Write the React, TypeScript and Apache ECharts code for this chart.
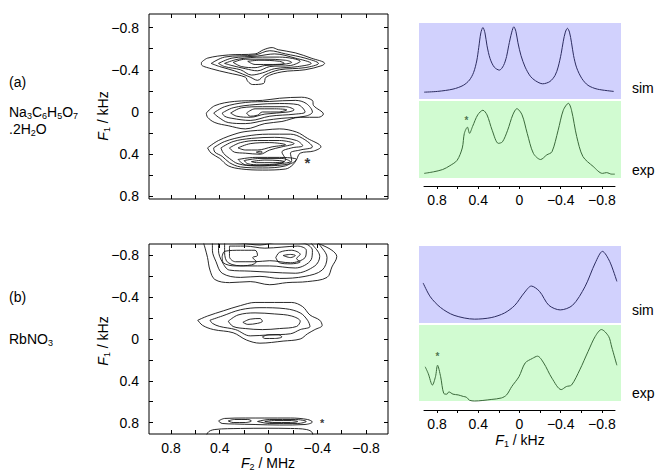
import React, { useEffect, useRef } from 'react';
import * as echarts from 'echarts';

type P = [number, number];

const FONT = "'Liberation Sans', Arial, Helvetica, sans-serif";

// tick values (kHz / MHz)
const majorTicks = [0.8, 0.4, 0, -0.4, -0.8];
const minorTicks = [0.8, 0.6, 0.4, 0.2, 0, -0.2, -0.4, -0.6, -0.8];

// ---- (a) contours: [F2 MHz, F1 kHz]
const aUpper: P[][] = [
  [[0.55,-0.47],[0.50,-0.51],[0.33,-0.54],[0.11,-0.55],[0.04,-0.59],[-0.03,-0.61],[-0.08,-0.59],[-0.22,-0.56],[-0.35,-0.51],[-0.46,-0.46],[-0.44,-0.44],[-0.30,-0.40],[-0.11,-0.38],[0.02,-0.33],[0.04,-0.27],[0.13,-0.26],[0.17,-0.29],[0.19,-0.33],[0.33,-0.37],[0.47,-0.41],[0.55,-0.45]],
  [[0.47,-0.46],[0.36,-0.52],[0.11,-0.54],[-0.01,-0.58],[-0.14,-0.55],[-0.30,-0.51],[-0.41,-0.46],[-0.30,-0.42],[-0.09,-0.40],[0.03,-0.35],[0.09,-0.30],[0.15,-0.33],[0.28,-0.39],[0.40,-0.43]],
  [[0.41,-0.46],[0.30,-0.51],[0.09,-0.53],[-0.05,-0.55],[-0.22,-0.51],[-0.35,-0.46],[-0.24,-0.43],[-0.05,-0.41],[0.05,-0.37],[0.14,-0.35],[0.23,-0.40],[0.36,-0.43]],
  [[0.36,-0.46],[0.25,-0.50],[0.05,-0.52],[-0.09,-0.52],[-0.26,-0.48],[-0.18,-0.44],[-0.01,-0.43],[0.09,-0.39],[0.19,-0.41],[0.30,-0.44]],
  [[0.29,-0.47],[0.19,-0.50],[0.03,-0.50],[-0.14,-0.49],[-0.19,-0.47],[-0.11,-0.45],[0.03,-0.44],[0.11,-0.42],[0.22,-0.43]],
  [[0.17,-0.48],[0.07,-0.49],[-0.09,-0.48],[-0.13,-0.46],[-0.03,-0.45],[0.11,-0.45]],
];
const aMiddle: P[][] = [
  [[0.51,0.01],[0.44,-0.06],[0.28,-0.10],[0.05,-0.11],[-0.09,-0.13],[-0.27,-0.14],[-0.36,-0.11],[-0.37,-0.06],[-0.45,0.02],[-0.41,0.05],[-0.26,0.05],[-0.11,0.09],[0.03,0.11],[0.19,0.16],[0.33,0.13],[0.44,0.10],[0.50,0.05]],
  [[0.45,0.01],[0.36,-0.05],[0.19,-0.09],[-0.01,-0.10],[-0.22,-0.11],[-0.31,-0.08],[-0.36,0.00],[-0.30,0.04],[-0.11,0.06],[0.03,0.08],[0.19,0.11],[0.33,0.10],[0.41,0.05]],
  [[0.38,0.01],[0.29,-0.04],[0.11,-0.07],[-0.09,-0.08],[-0.24,-0.07],[-0.30,0.00],[-0.22,0.02],[-0.01,0.04],[0.15,0.08],[0.30,0.06],[0.36,0.04]],
  [[0.31,0.01],[0.22,-0.04],[0.05,-0.05],[-0.14,-0.05],[-0.21,-0.02],[-0.16,0.00],[0.03,0.02],[0.15,0.05],[0.26,0.04]],
  [[0.18,0.01],[0.11,-0.03],[-0.05,-0.03],[-0.15,-0.02],[-0.08,0.00],[0.05,0.00],[0.09,0.03],[0.15,0.04]],
];
const aLower: P[][] = [
  [[0.50,0.34],[0.41,0.27],[0.25,0.20],[0.15,0.18],[0.03,0.17],[-0.09,0.16],[-0.23,0.19],[-0.32,0.25],[-0.43,0.33],[-0.37,0.37],[-0.26,0.39],[-0.23,0.45],[-0.20,0.50],[-0.14,0.54],[0.05,0.55],[0.22,0.54],[0.33,0.51],[0.40,0.44],[0.47,0.39]],
  [[0.45,0.34],[0.36,0.28],[0.19,0.23],[0.00,0.21],[-0.18,0.21],[-0.28,0.25],[-0.36,0.33],[-0.26,0.36],[-0.18,0.39],[-0.19,0.46],[-0.14,0.51],[0.05,0.53],[0.23,0.52],[0.32,0.48],[0.38,0.42],[0.44,0.38]],
  [[0.39,0.34],[0.29,0.28],[0.14,0.25],[-0.05,0.24],[-0.23,0.27],[-0.28,0.32],[-0.19,0.34],[-0.11,0.38],[-0.14,0.45],[-0.05,0.50],[0.11,0.51],[0.25,0.49],[0.32,0.44],[0.37,0.39]],
  [[0.32,0.34],[0.23,0.29],[0.09,0.27],[-0.09,0.27],[-0.21,0.30],[-0.11,0.33],[-0.01,0.36],[0.07,0.40],[0.19,0.39],[0.28,0.38]],
  [[0.25,0.34],[0.15,0.30],[-0.01,0.29],[-0.14,0.31],[-0.03,0.33],[0.09,0.36],[0.19,0.36]],
  [[0.10,0.38],[0.07,0.372],[0.05,0.38],[0.07,0.39]],
  [[0.25,0.45],[0.11,0.43],[-0.09,0.43],[-0.23,0.45],[-0.18,0.49],[0.03,0.51],[0.19,0.50]],
  [[0.20,0.46],[0.07,0.44],[-0.11,0.44],[-0.18,0.47],[-0.09,0.49],[0.07,0.50],[0.17,0.49]],
  [[0.14,0.47],[0.03,0.455],[-0.09,0.46],[-0.13,0.47],[-0.03,0.48],[0.10,0.48]],
];

// ---- (b) contours
const bUpper: P[][] = [
  [[0.54,-0.95],[0.52,-0.87],[0.50,-0.78],[0.48,-0.66],[0.44,-0.57],[0.32,-0.54],[0.15,-0.55],[-0.01,-0.52],[-0.15,-0.54],[-0.32,-0.55],[-0.48,-0.59],[-0.52,-0.69],[-0.56,-0.79],[-0.52,-0.85],[-0.42,-0.91],[-0.34,-0.95]],
  [[0.46,-0.95],[0.46,-0.85],[0.43,-0.74],[0.38,-0.63],[0.23,-0.59],[0.07,-0.60],[-0.09,-0.58],[-0.30,-0.60],[-0.44,-0.66],[-0.48,-0.78],[-0.44,-0.87],[-0.36,-0.95]],
  [[0.41,-0.95],[0.41,-0.85],[0.38,-0.74],[0.32,-0.66],[0.15,-0.65],[-0.01,-0.64],[-0.22,-0.63],[-0.38,-0.70],[-0.42,-0.79],[-0.37,-0.89],[-0.30,-0.95]],
  [[0.36,-0.93],[0.36,-0.83],[0.33,-0.73],[0.19,-0.70],[-0.01,-0.70],[-0.22,-0.68],[-0.35,-0.76],[-0.36,-0.85],[-0.28,-0.92],[-0.09,-0.93],[0.07,-0.90],[0.23,-0.92]],
  [[0.32,-0.89],[0.32,-0.79],[0.27,-0.74],[0.11,-0.74],[-0.01,-0.75],[-0.18,-0.73],[-0.30,-0.78],[-0.31,-0.85],[-0.24,-0.89],[-0.11,-0.88],[0.03,-0.87],[0.19,-0.89]],
  [[0.38,-0.79],[0.36,-0.84],[0.23,-0.85],[0.11,-0.85],[0.09,-0.80],[0.13,-0.78],[0.10,-0.74],[0.14,-0.71],[0.27,-0.70],[0.37,-0.73]],
  [[-0.06,-0.78],[-0.09,-0.83],[-0.19,-0.85],[-0.26,-0.81],[-0.23,-0.77],[-0.26,-0.74],[-0.18,-0.72],[-0.09,-0.73]],
  [[-0.12,-0.80],[-0.18,-0.81],[-0.22,-0.80],[-0.18,-0.78]],
];
const bMiddle: P[][] = [
  [[0.58,-0.18],[0.50,-0.22],[0.37,-0.27],[0.23,-0.32],[0.11,-0.35],[-0.05,-0.35],[-0.19,-0.35],[-0.28,-0.31],[-0.34,-0.23],[-0.42,-0.18],[-0.44,-0.13],[-0.38,-0.09],[-0.32,-0.05],[-0.26,0.00],[-0.12,0.02],[0.07,0.04],[0.18,0.01],[0.29,-0.06],[0.45,-0.09],[0.54,-0.13]],
  [[0.48,-0.18],[0.38,-0.22],[0.23,-0.28],[0.07,-0.30],[-0.14,-0.29],[-0.26,-0.25],[-0.32,-0.18],[-0.34,-0.12],[-0.26,-0.09],[-0.18,-0.05],[-0.01,-0.04],[0.15,-0.03],[0.27,-0.09],[0.40,-0.12],[0.46,-0.15]],
  [[0.33,-0.17],[0.25,-0.23],[0.11,-0.25],[-0.05,-0.24],[-0.19,-0.22],[-0.26,-0.17],[-0.23,-0.12],[-0.09,-0.10],[0.05,-0.09],[0.19,-0.10],[0.29,-0.12]],
  [[0.21,-0.16],[0.15,-0.19],[0.07,-0.196],[0.05,-0.17],[0.09,-0.15],[0.17,-0.14]],
  [[0.05,-0.02],[0.00,-0.04],[-0.08,-0.04],[-0.11,-0.02],[-0.05,-0.005],[0.03,-0.005]],
];
const bLower: P[][] = [
  [[0.41,0.785],[0.36,0.761],[0.19,0.757],[0.03,0.757],[-0.18,0.757],[-0.32,0.771],[-0.36,0.795],[-0.30,0.819],[-0.09,0.824],[0.11,0.819],[0.28,0.814],[0.38,0.809]],
  [[0.33,0.785],[0.28,0.771],[0.17,0.771],[0.14,0.785],[0.19,0.80],[0.29,0.80]],
  [[0.09,0.79],[-0.01,0.771],[-0.22,0.771],[-0.31,0.79],[-0.24,0.809],[-0.01,0.809]],
  [[0.03,0.79],[-0.05,0.781],[-0.19,0.781],[-0.24,0.79],[-0.18,0.80],[-0.03,0.80]],
  [[0.52,1.02],[0.50,0.90],[0.44,0.867],[0.23,0.857],[0.01,0.855],[-0.18,0.857],[-0.31,0.867],[-0.36,0.90],[-0.37,1.02]],
];

// ---- 1D projections: [F1 kHz, relative intensity]
const simA: P[] = [[0.93,0.09],[0.8,0.10],[0.65,0.13],[0.55,0.18],[0.49,0.25],[0.45,0.35],[0.42,0.50],[0.40,0.68],[0.38,0.87],[0.36,0.94],[0.34,0.87],[0.32,0.70],[0.29,0.53],[0.25,0.42],[0.20,0.38],[0.16,0.44],[0.13,0.56],[0.11,0.70],[0.08,0.88],[0.06,0.95],[0.04,0.89],[0.02,0.74],[-0.01,0.57],[-0.05,0.42],[-0.10,0.30],[-0.15,0.24],[-0.22,0.20],[-0.29,0.23],[-0.34,0.31],[-0.37,0.42],[-0.40,0.60],[-0.42,0.76],[-0.44,0.88],[-0.46,0.93],[-0.48,0.88],[-0.50,0.74],[-0.52,0.57],[-0.55,0.41],[-0.60,0.27],[-0.66,0.18],[-0.75,0.13],[-0.91,0.10]];
const expA: P[] = [[0.93,0.06],[0.84,0.08],[0.75,0.11],[0.68,0.16],[0.61,0.23],[0.56,0.39],[0.54,0.58],[0.51,0.66],[0.49,0.58],[0.46,0.67],[0.41,0.82],[0.36,0.88],[0.32,0.82],[0.27,0.62],[0.21,0.45],[0.17,0.47],[0.12,0.62],[0.07,0.82],[0.03,0.90],[-0.02,0.82],[-0.07,0.58],[-0.13,0.32],[-0.20,0.24],[-0.26,0.30],[-0.31,0.34],[-0.37,0.62],[-0.42,0.88],[-0.47,0.97],[-0.50,0.88],[-0.55,0.54],[-0.61,0.28],[-0.71,0.15],[-0.80,0.06],[-0.84,0.07],[-0.89,0.05],[-0.92,0.05]];
const simB: P[] = [[0.94,0.52],[0.87,0.34],[0.77,0.20],[0.64,0.10],[0.44,0.05],[0.28,0.07],[0.15,0.13],[0.05,0.23],[-0.04,0.39],[-0.11,0.48],[-0.19,0.41],[-0.28,0.23],[-0.39,0.17],[-0.51,0.23],[-0.63,0.47],[-0.73,0.78],[-0.80,0.93],[-0.87,0.80],[-0.94,0.54]];
const expB: P[] = [[0.92,0.45],[0.89,0.36],[0.85,0.21],[0.82,0.32],[0.80,0.47],[0.77,0.32],[0.74,0.10],[0.71,0.09],[0.69,0.12],[0.65,0.09],[0.60,0.08],[0.55,0.06],[0.52,0.05],[0.49,0.01],[0.44,0.0],[0.28,0.02],[0.18,0.04],[0.13,0.08],[0.08,0.19],[0.01,0.32],[-0.05,0.50],[-0.12,0.56],[-0.17,0.59],[-0.23,0.50],[-0.31,0.30],[-0.40,0.15],[-0.45,0.19],[-0.50,0.21],[-0.58,0.41],[-0.66,0.65],[-0.73,0.85],[-0.79,0.94],[-0.86,0.85],[-0.89,0.71],[-0.94,0.47]];

// markers (*)
const starA2D: P = [-0.32, 0.48];
const starB2D: P = [-0.44, 0.80];
const starA1D: P = [0.52, 0.75];
const starB1D: P = [0.80, 0.58];

const fmt = (v: number) => (Math.abs(v) < 1e-9 ? '0' : (v < 0 ? '\u2212' : '') + Math.abs(v).toFixed(1));

const sub = { fontSize: 9, lineHeight: 10, padding: [7, 0, 0, 0], fontFamily: FONT, fill: '#000' };
const base = { fontSize: 14, lineHeight: 17, fontFamily: FONT, fill: '#000' };
const ital = { fontSize: 14, lineHeight: 17, fontFamily: FONT, fontStyle: 'italic', fill: '#000' };
const rich = { b: base, s: sub, i: ital };

export default function App() {
  const ref = useRef<HTMLDivElement>(null);
  useEffect(() => {
    if (!ref.current) return;
    const chart = echarts.init(ref.current, undefined, { renderer: 'svg' });

    const contourX = (gridIndex: number, position: string, labels: boolean) => ({
      type: 'value', gridIndex, position, inverse: true, min: -0.98, max: 0.98,
      axisLine: { show: false, onZero: false },
      splitLine: { show: false },
      axisTick: { show: true, inside: true, length: 4, customValues: minorTicks, lineStyle: { color: '#000', width: 1 } },
      axisLabel: { show: labels, customValues: majorTicks, formatter: fmt, fontSize: 14, color: '#000', fontFamily: FONT, margin: 7 },
    });
    const contourY = (gridIndex: number, position: string, labels: boolean, min: number, max: number) => ({
      type: 'value', gridIndex, position, inverse: true, min, max,
      axisLine: { show: false, onZero: false },
      splitLine: { show: false },
      axisTick: { show: true, inside: true, length: 4, customValues: minorTicks, lineStyle: { color: '#000', width: 1 } },
      axisLabel: { show: labels, customValues: majorTicks, formatter: fmt, fontSize: 14, color: '#000', fontFamily: FONT, margin: 10 },
    });
    const hidX = (gridIndex: number) => ({ type: 'value', gridIndex, show: false, inverse: true, min: -0.98, max: 0.98, axisLine: { onZero: false } });
    const hidY = (gridIndex: number) => ({ type: 'value', gridIndex, show: false, min: 0, max: 1, axisLine: { onZero: false } });
    const projX = (gridIndex: number) => ({
      type: 'value', gridIndex, position: 'bottom', inverse: true, min: -0.927, max: 0.927,
      axisLine: { show: true, onZero: false, lineStyle: { color: '#000', width: 1 } },
      splitLine: { show: false },
      axisTick: { show: true, length: 3, customValues: minorTicks, lineStyle: { color: '#000', width: 1 } },
      axisLabel: { customValues: majorTicks, formatter: fmt, fontSize: 14, color: '#000', fontFamily: FONT, margin: 7 },
    });

    const ring = (pts: P[], axis: number) => ({
      type: 'line', xAxisIndex: axis, yAxisIndex: axis, data: [...pts, pts[0]],
      symbol: 'none', smooth: 0.35, silent: true, clip: true,
      lineStyle: { color: '#111', width: 0.9 },
    });
    const spectrum = (pts: P[], axis: number, color: string) => ({
      type: 'line', xAxisIndex: axis, yAxisIndex: axis, data: pts,
      symbol: 'none', smooth: 0.3, silent: true, clip: false,
      lineStyle: { color, width: 1 },
    });
    const star = (pt: P, axis: number, size: number, color: string) => ({
      type: 'scatter', xAxisIndex: axis, yAxisIndex: axis, data: [pt], symbolSize: 1,
      itemStyle: { color: 'rgba(0,0,0,0)' }, silent: true,
      label: { show: true, formatter: '*', position: 'inside', fontSize: size, fontWeight: 'bold', color, fontFamily: FONT },
    });

    const series: any[] = [];
    [...aUpper, ...aMiddle, ...aLower].forEach((r) => series.push(ring(r, 0)));
    [...bUpper, ...bMiddle, ...bLower].forEach((r) => series.push(ring(r, 2)));
    series.push(spectrum(simA, 4, '#2c2c60'));
    series.push(spectrum(expA, 5, '#3b6a3b'));
    series.push(spectrum(simB, 7, '#2c2c60'));
    series.push(spectrum(expB, 8, '#3b6a3b'));
    series.push(star(starA2D, 0, 15, '#000'));
    series.push(star(starB2D, 2, 11, '#000'));
    series.push(star(starA1D, 5, 10, '#2d4f2d'));
    series.push(star(starB1D, 8, 10, '#2d4f2d'));

    const blue = '#d1d1fd';
    const green = '#d1fbd1';

    chart.setOption({
      animation: false,
      grid: [
        { left: 149, top: 14, width: 239, height: 185, show: true, borderColor: '#000', borderWidth: 1 },
        { left: 149, top: 244, width: 239, height: 190, show: true, borderColor: '#000', borderWidth: 1 },
        { left: 419, top: 23, width: 202, height: 76, show: true, backgroundColor: blue, borderWidth: 0 },
        { left: 419, top: 101, width: 202, height: 77, show: true, backgroundColor: green, borderWidth: 0 },
        { left: 424, top: 185, width: 191, height: 1 },
        { left: 419, top: 246, width: 202, height: 77, show: true, backgroundColor: blue, borderWidth: 0 },
        { left: 419, top: 325, width: 202, height: 76, show: true, backgroundColor: green, borderWidth: 0 },
        { left: 424, top: 409, width: 191, height: 1 },
      ],
      xAxis: [
        contourX(0, 'bottom', false), contourX(0, 'top', false),
        contourX(1, 'bottom', true), contourX(1, 'top', false),
        hidX(2), hidX(3), projX(4), hidX(5), hidX(6), projX(7),
      ],
      yAxis: [
        contourY(0, 'left', true, -0.928, 0.824), contourY(0, 'right', false, -0.928, 0.824),
        contourY(1, 'left', true, -0.91, 0.91), contourY(1, 'right', false, -0.91, 0.91),
        hidY(2), hidY(3), hidY(4), hidY(5), hidY(6), hidY(7),
      ],
      series,
      graphic: [
        { type: 'text', style: { x: 9, y: 82, text: '(a)', fontSize: 14, fontFamily: FONT, fill: '#000', verticalAlign: 'middle' } },
        { type: 'text', style: { x: 9, y: 112, text: '{b|Na}{s|3}{b|C}{s|6}{b|H}{s|5}{b|O}{s|7}', rich, verticalAlign: 'middle' } },
        { type: 'text', style: { x: 9, y: 129, text: '{b|.2H}{s|2}{b|O}', rich, verticalAlign: 'middle' } },
        { type: 'text', style: { x: 9, y: 297, text: '(b)', fontSize: 14, fontFamily: FONT, fill: '#000', verticalAlign: 'middle' } },
        { type: 'text', style: { x: 9, y: 339, text: '{b|RbNO}{s|3}', rich, verticalAlign: 'middle' } },
        { type: 'text', x: 103, y: 116, rotation: Math.PI / 2, style: { x: 0, y: 0, text: '{i|F}{s|1}{b| / kHz}', rich, align: 'center', verticalAlign: 'middle' } },
        { type: 'text', x: 103, y: 341, rotation: Math.PI / 2, style: { x: 0, y: 0, text: '{i|F}{s|1}{b| / kHz}', rich, align: 'center', verticalAlign: 'middle' } },
        { type: 'text', style: { x: 268, y: 463, text: '{i|F}{s|2}{b| / MHz}', rich, align: 'center', verticalAlign: 'middle' } },
        { type: 'text', style: { x: 520, y: 440, text: '{i|F}{s|1}{b| / kHz}', rich, align: 'center', verticalAlign: 'middle' } },
        { type: 'text', style: { x: 632, y: 88, text: 'sim', fontSize: 14, fontFamily: FONT, fill: '#000', verticalAlign: 'middle' } },
        { type: 'text', style: { x: 632, y: 170, text: 'exp', fontSize: 14, fontFamily: FONT, fill: '#000', verticalAlign: 'middle' } },
        { type: 'text', style: { x: 632, y: 310, text: 'sim', fontSize: 14, fontFamily: FONT, fill: '#000', verticalAlign: 'middle' } },
        { type: 'text', style: { x: 632, y: 393, text: 'exp', fontSize: 14, fontFamily: FONT, fill: '#000', verticalAlign: 'middle' } },
      ],
    });
    return () => chart.dispose();
  }, []);
  return <div ref={ref} style={{ position: 'fixed', left: 0, top: 0, width: 659, height: 473, background: '#fff' }} />;
}
